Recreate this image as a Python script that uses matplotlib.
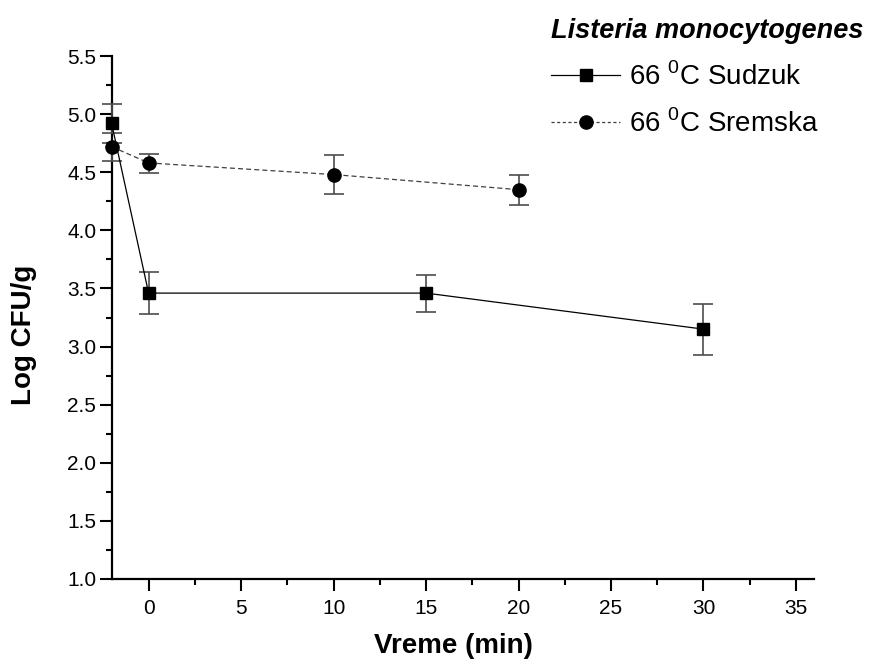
"""Listeria monocytogenes survival at 66 C: Sudzuk vs Sremska."""

import matplotlib

matplotlib.use("Agg")
import matplotlib.pyplot as plt
from matplotlib.ticker import MultipleLocator

plt.rcParams["font.family"] = ["Liberation Sans", "DejaVu Sans"]
plt.rcParams["mathtext.fontset"] = "custom"
plt.rcParams["mathtext.rm"] = "Liberation Sans"

# data
sudzuk_time = [-2, 0, 15, 30]
sudzuk_log = [4.92, 3.46, 3.46, 3.15]
sudzuk_err_low = [0.08, 0.18, 0.16, 0.22]
sudzuk_err_high = [0.17, 0.18, 0.16, 0.22]

sremska_time = [-2, 0, 10, 20]
sremska_log = [4.72, 4.58, 4.48, 4.35]
sremska_err_low = [0.12, 0.09, 0.17, 0.13]
sremska_err_high = [0.03, 0.08, 0.17, 0.13]

labels = ["66 $^{0}$C Sudzuk", "66 $^{0}$C Sremska"]


def main():
    fig = plt.figure(figsize=(8.72, 6.59), dpi=100)
    ax = fig.add_axes([0.128, 0.1214, 0.806, 0.7936])

    err_style = dict(ecolor="0.3", elinewidth=1.2, capsize=7.5, capthick=1.2)

    h1 = ax.errorbar(
        sudzuk_time, sudzuk_log, yerr=[sudzuk_err_low, sudzuk_err_high],
        fmt="-s", color="black", lw=0.9, markersize=9, label=labels[0],
        clip_on=False, zorder=4, **err_style,
    )
    ax.errorbar(
        sremska_time, sremska_log, yerr=[sremska_err_low, sremska_err_high],
        fmt="o", color="black", markersize=9.5, label=labels[1],
        clip_on=False, zorder=3, **err_style,
    )
    ax.plot(sremska_time, sremska_log, color="0.25", lw=0.9,
            dashes=(4, 2.5), zorder=2)
    # legend proxy for the dashed line with marker
    proxy2, = ax.plot([], [], color="0.25", lw=0.9, dashes=(2.5, 2),
                      marker="o", markersize=9.5, markerfacecolor="black",
                      markeredgecolor="black")

    ax.set_xlim(-2, 36)
    ax.set_ylim(1.0, 5.5)
    ax.xaxis.set_major_locator(MultipleLocator(5))
    ax.xaxis.set_minor_locator(MultipleLocator(2.5))
    ax.yaxis.set_major_locator(MultipleLocator(0.5))
    ax.yaxis.set_minor_locator(MultipleLocator(0.25))

    for side in ("top", "right"):
        ax.spines[side].set_visible(False)
    for side in ("left", "bottom"):
        ax.spines[side].set_linewidth(1.6)
    ax.tick_params(which="major", direction="out", length=8.5, width=1.5,
                   labelsize=15)
    ax.tick_params(which="minor", direction="out", length=4.5, width=1.5)
    ax.tick_params(axis="x", which="major", pad=6)
    ax.tick_params(axis="y", which="major", pad=2.5)

    fig.text(453 / 872, 1 - 646 / 659, "Vreme (min)", fontsize=20,
             fontweight="bold", ha="center", va="center")
    fig.text(24 / 872, 1 - 335 / 659, "Log CFU/g", fontsize=20,
             fontweight="bold", ha="center", va="center", rotation=90)

    leg = ax.legend(
        [h1[0], proxy2], labels,
        title="Listeria monocytogenes", fontsize=20, title_fontsize=19.5,
        loc="upper left", bbox_to_anchor=(551 / 872, 1 - 18 / 659),
        bbox_transform=fig.transFigure, frameon=False, alignment="left",
        handlelength=2.5, handletextpad=0.3, labelspacing=0.66,
        borderpad=0, borderaxespad=0,
    )
    leg.get_title().set_fontweight("bold")
    leg.get_title().set_fontstyle("italic")

    fig.savefig("out.png", dpi=100)
    plt.close(fig)


if __name__ == "__main__":
    main()
